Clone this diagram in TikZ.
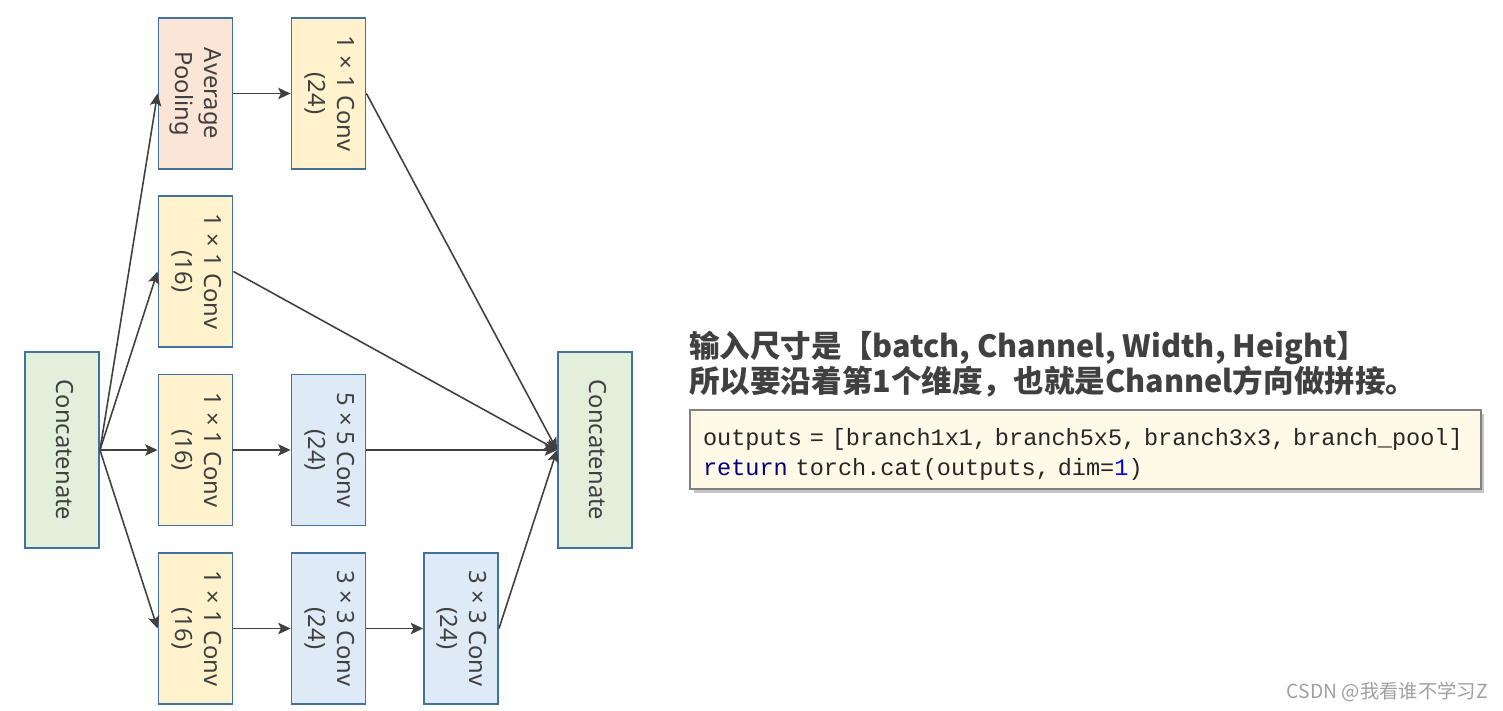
\documentclass[tikz,border=0pt]{standalone}
\usepackage{fontspec}
\usepackage{xcolor}
\usetikzlibrary{shadows, arrows.meta}
\setmainfont{Noto Sans}
\setmonofont{Liberation Mono}
\newfontfamily\cjkfont{Noto Sans CJK SC}
\definecolor{edgeblue}{HTML}{41719C}
\definecolor{catgreen}{HTML}{E2EFDA}
\definecolor{convyellow}{HTML}{FFF2CC}
\definecolor{convblue}{HTML}{DEEBF7}
\definecolor{poolpink}{HTML}{FBE5D6}
\definecolor{textgray}{HTML}{404040}
\definecolor{codecream}{HTML}{FFF9E8}
\definecolor{kwblue}{HTML}{000080}
\newcommand{\vlabel}[1]{\rotatebox{-90}{\begin{tabular}{@{}c@{}}#1\end{tabular}}}

\begin{document}
\begin{tikzpicture}[x=0.02cm, y=-0.02cm, >={Stealth[length=7pt, width=6.5pt, inset=1.5pt]},
    box/.style={draw=edgeblue, line width=1.1pt, text=textgray,
      font=\fontsize{13.5}{16.5}\selectfont, inner sep=0pt,
      minimum width=1.48cm, minimum height=3.02cm},
    concat/.style={box, fill=catgreen, minimum height=3.92cm},
    yconv/.style={box, fill=convyellow},
    bconv/.style={box, fill=convblue},
    pool/.style={box, fill=poolpink},
    link/.style={->, textgray, line width=0.9pt}]
  \useasboundingbox (0,0) rectangle (1503,710);
  % input and output
  \node[concat] (cat in) at (62,450) {\vlabel{Concatenate}};
  \node[concat] (cat out) at (595,450) {\vlabel{Concatenate}};
  % branch pool
  \node[pool] (pool) at (195.5,93.5) {\vlabel{Average\\Pooling}};
  \node[yconv] (pool conv) at (328.5,93.5) {\vlabel{\textbf{1} × \textbf{1} Conv\\(24)}};
  % branch 1x1
  \node[yconv] (b1x1) at (195.5,271.5) {\vlabel{\textbf{1} × \textbf{1} Conv\\(16)}};
  % branch 5x5
  \node[yconv] (b5x5 a) at (195.5,450) {\vlabel{\textbf{1} × \textbf{1} Conv\\(16)}};
  \node[bconv] (b5x5 b) at (328.5,450) {\vlabel{\textbf{5} × \textbf{5} Conv\\(24)}};
  % branch 3x3
  \node[yconv] (b3x3 a) at (195.5,628.5) {\vlabel{\textbf{1} × \textbf{1} Conv\\(16)}};
  \node[bconv] (b3x3 b) at (328.5,628.5) {\vlabel{3 × 3 Conv\\(24)}};
  \node[bconv] (b3x3 c) at (461,628.5) {\vlabel{3 × 3 Conv\\(24)}};
  % links
  \foreach \n in {pool, b1x1, b5x5 a, b3x3 a}
    \draw[link] (cat in.east) -- (\n.west);
  \draw[link] (pool.east) -- (pool conv.west);
  \draw[link] (b5x5 a.east) -- (b5x5 b.west);
  \draw[link] (b3x3 a.east) -- (b3x3 b.west);
  \draw[link] (b3x3 b.east) -- (b3x3 c.west);
  \foreach \n in {pool conv, b1x1, b5x5 b, b3x3 c}
    \draw[link] (\n.east) -- (cat out.west);
  % note and code
  \node[anchor=base west, textgray, font=\cjkfont\bfseries\fontsize{17.4}{20}\selectfont]
    (note1) at (683,357) {输入尺寸是【batch, Channel, Width, Height】};
  \node[anchor=base west, textgray, font=\cjkfont\bfseries\fontsize{17.4}{20}\selectfont]
    (note2) at (683,392) {所以要沿着第1个维度，也就是Channel方向做拼接。};
  \node[draw=gray, fill=codecream, line width=0.7pt, minimum width=15.82cm,
    minimum height=1.58cm, text width=15.3cm, align=left, inner sep=0pt,
    drop shadow={opacity=0.45, shadow xshift=2pt, shadow yshift=-2pt},
    font=\ttfamily\fontsize{13.4}{17}\selectfont, text=black!85]
    (code) at (1085.5,449.5)
    {\rule{0pt}{15pt}outputs = [branch1x1, branch5x5, branch3x3, branch\_pool]\\
     {\color{kwblue}return} torch.cat(outputs, dim={\color{blue}1})};
  % watermark
  \node[anchor=base east, gray!75, font=\cjkfont\fontsize{11}{13}\selectfont]
    (mark) at (1494,698) {CSDN @我看谁不学习Z};
\end{tikzpicture}
\end{document}
